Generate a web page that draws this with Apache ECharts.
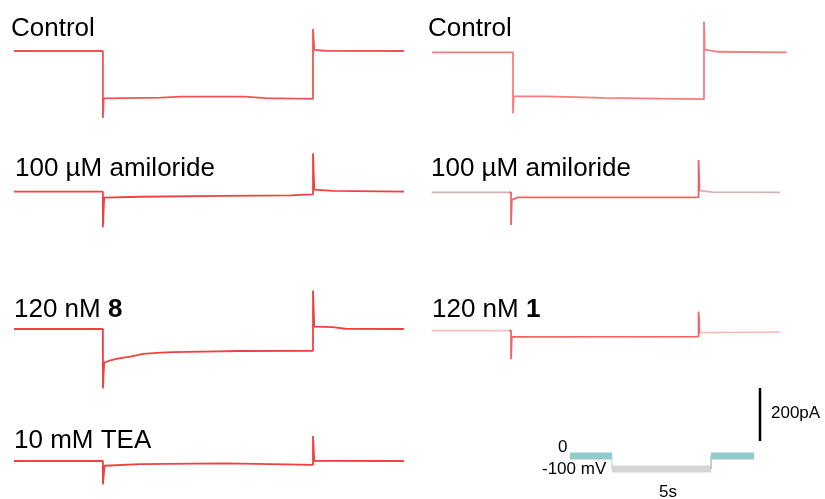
<!DOCTYPE html>
<html>
<head>
<meta charset="utf-8">
<script src="https://cdn.jsdelivr.net/npm/echarts@6/dist/echarts.min.js"></script>
<style>
  html, body { margin: 0; padding: 0; background: #fff; }
  #main { width: 825px; height: 499px; }
</style>
</head>
<body>
<div id="main"></div>
<script>
// time (s), current (pA) relative to the holding current at 0 mV
var ctrlA = [[0,0],[2.12,0],[2.12,-253],[2.14,-179],[3.5,-176],[4.0,-172],[5.5,-172],[6.0,-178],[7.13,-181],[7.13,83],[7.16,4],[7.4,1],[9.3,0]];
var ctrlB = [[0,0],[2.12,0],[2.12,-230],[2.14,-165],[3.0,-166],[4.5,-172],[6.0,-175],[7.13,-177],[7.13,115],[7.15,10],[7.5,2],[9.3,0]];
var amilA = [[0,0],[2.12,0],[2.12,-134],[2.15,-22],[3.0,-19],[5.0,-16],[6.6,-14],[7.13,-10],[7.13,145],[7.16,8],[7.6,3],[9.3,0]];
var amilB = [[0,0],[2.12,0],[2.12,-123],[2.14,-29],[2.3,-19],[5.0,-19],[7.13,-19],[7.13,122],[7.16,6],[7.5,1],[9.3,0]];
var cmpd8 = [[0,0],[2.12,0],[2.12,-224],[2.15,-127],[2.3,-118],[2.5,-111],[2.77,-104],[3.08,-94],[3.5,-89],[3.79,-87],[4.5,-85],[5.39,-83],[7.13,-82],[7.13,145],[7.16,9],[7.6,7],[7.9,1],[9.3,0]];
var cmpd1 = [[0,0],[2.12,0],[2.12,-108],[2.14,-23],[7.13,-22],[7.13,72],[7.16,-7],[9.3,-5]];
var tea   = [[0,0],[2.12,0],[2.12,-88],[2.16,-18],[3.0,-12],[5.0,-9],[6.5,-13],[7.13,-15],[7.13,94],[7.16,1],[9.3,0]];

// voltage protocol (s, mV)
var protoHold1 = [[0,0],[2.12,0]];
var protoStep  = [[2.12,-100],[7.13,-100]];
var protoHold2 = [[7.13,0],[9.3,0]];
var protoEdge1 = [[2.12,0],[2.12,-100]];
var protoEdge2 = [[7.13,-100],[7.13,0]];

// scale bar (pA)
var scaleBar = [[0,0],[0,200]];

var labels = ['Control', 'Control', '100 \u00b5M amiloride', '100 \u00b5M amiloride', '120 nM ', '120 nM ', '10 mM TEA'];
var boldLabels = ['', '', '', '', '8', '1', ''];

var K = 0.265; // px per pA (200 pA = 53 px)
var panels = [
  { data: ctrlA, left: 14,    width: 390,   base: 51,    ymin: -260, ymax: 150, color: 'rgba(238,40,40,0.8)', tx: 11,  ty: 36 },
  { data: ctrlB, left: 432.2, width: 354.5, base: 52.3,  ymin: -260, ymax: 150, color: 'rgba(240,70,70,0.7)', tx: 428, ty: 36 },
  { data: amilA, left: 14,    width: 390,   base: 191.7, ymin: -260, ymax: 150, color: 'rgba(238,30,30,0.85)', tx: 15,  ty: 176 },
  { data: amilB, left: 431.7, width: 348.1, base: 192.3, ymin: -260, ymax: 150, color: 'rgba(236,60,60,0.8)', tx: 431, ty: 176,
    edge: '#d3b3b3' },
  { data: cmpd8, left: 14,    width: 390,   base: 329,   ymin: -260, ymax: 150, color: 'rgba(238,30,30,0.85)', tx: 14,  ty: 317 },
  { data: cmpd1, left: 431.7, width: 348.1, base: 330.7, ymin: -260, ymax: 150, color: 'rgba(240,60,60,0.8)', tx: 432, ty: 317,
    edge: '#f3c0c0' },
  { data: tea,   left: 14,    width: 390,   base: 461,   ymin: -100, ymax: 150, color: 'rgba(238,30,30,0.85)', tx: 14,  ty: 448 }
];

var grids = [], xAxes = [], yAxes = [], series = [], graphics = [], visualMaps = [];

panels.forEach(function (p, i) {
  grids.push({ left: p.left, width: p.width, top: p.base - p.ymax * K, height: (p.ymax - p.ymin) * K });
  xAxes.push({ type: 'value', gridIndex: i, min: 0, max: 9.3, show: false });
  yAxes.push({ type: 'value', gridIndex: i, min: p.ymin, max: p.ymax, show: false });
  var s = {
    type: 'line', xAxisIndex: i, yAxisIndex: i, data: p.data,
    showSymbol: false, silent: true,
    lineStyle: { width: 1.8 }
  };
  if (p.edge) {
    // paler baseline outside the step, as in the original traces
    visualMaps.push({
      type: 'piecewise', show: false, seriesIndex: i, dimension: 0,
      pieces: [
        { lt: 2.06, color: p.edge },
        { gte: 2.06, lte: 7.18, color: p.color },
        { gt: 7.18, color: p.edge }
      ]
    });
  } else {
    s.lineStyle.color = p.color;
  }
  series.push(s);
  graphics.push({
    type: 'text', left: p.tx, top: p.ty - 20,
    style: {
      text: '{n|' + labels[i] + '}' + (boldLabels[i] ? '{b|' + boldLabels[i] + '}' : ''),
      rich: {
        n: { fontSize: 26, fontFamily: 'Liberation Sans', fill: '#000' },
        b: { fontSize: 26, fontFamily: 'Liberation Sans', fontWeight: 'bold', fill: '#000' }
      }
    }
  });
});

// protocol grid
var gp = grids.length;
grids.push({ left: 570, width: 184, top: 456 - 50 * 0.13, height: 200 * 0.13 });
xAxes.push({ type: 'value', gridIndex: gp, min: 0, max: 9.3, show: false });
yAxes.push({ type: 'value', gridIndex: gp, min: -150, max: 50, show: false });
function protoLine(d, c, w) {
  return { type: 'line', xAxisIndex: gp, yAxisIndex: gp, data: d, showSymbol: false, clip: false, silent: true,
           lineStyle: { color: c, width: w, cap: 'butt' } };
}
series.push(protoLine(protoHold1, '#93cbcb', 7));
series.push(protoLine(protoStep, '#d5d5d5', 7));
series.push(protoLine(protoHold2, '#93cbcb', 7));
series.push(protoLine(protoEdge1, '#a8d4d4', 1));
series.push(protoLine(protoEdge2, '#93cbcb', 1.5));

// scale bar grid
var gs = grids.length;
grids.push({ left: 750, width: 20, top: 388, height: 200 * K });
xAxes.push({ type: 'value', gridIndex: gs, min: -1, max: 1, show: false });
yAxes.push({ type: 'value', gridIndex: gs, min: 0, max: 200, show: false });
series.push({ type: 'line', xAxisIndex: gs, yAxisIndex: gs, data: scaleBar, showSymbol: false, clip: false, silent: true,
              lineStyle: { color: '#000', width: 2.5, cap: 'butt' } });

var small = { fontSize: 17, fontFamily: 'Liberation Sans', fill: '#000' };
graphics.push({ type: 'text', left: 771, top: 405, style: Object.assign({ text: '200pA' }, small) });
graphics.push({ type: 'text', left: 558, top: 439, style: Object.assign({ text: '0' }, small) });
graphics.push({ type: 'text', left: 542, top: 461, style: Object.assign({ text: '-100 mV' }, small) });
graphics.push({ type: 'text', left: 659, top: 484, style: Object.assign({ text: '5s' }, small) });

var chart = echarts.init(document.getElementById('main'), null, { renderer: 'canvas' });
chart.setOption({
  animation: false,
  backgroundColor: '#fff',
  grid: grids,
  xAxis: xAxes,
  yAxis: yAxes,
  visualMap: visualMaps,
  series: series,
  graphic: graphics
});
</script>
</body>
</html>
